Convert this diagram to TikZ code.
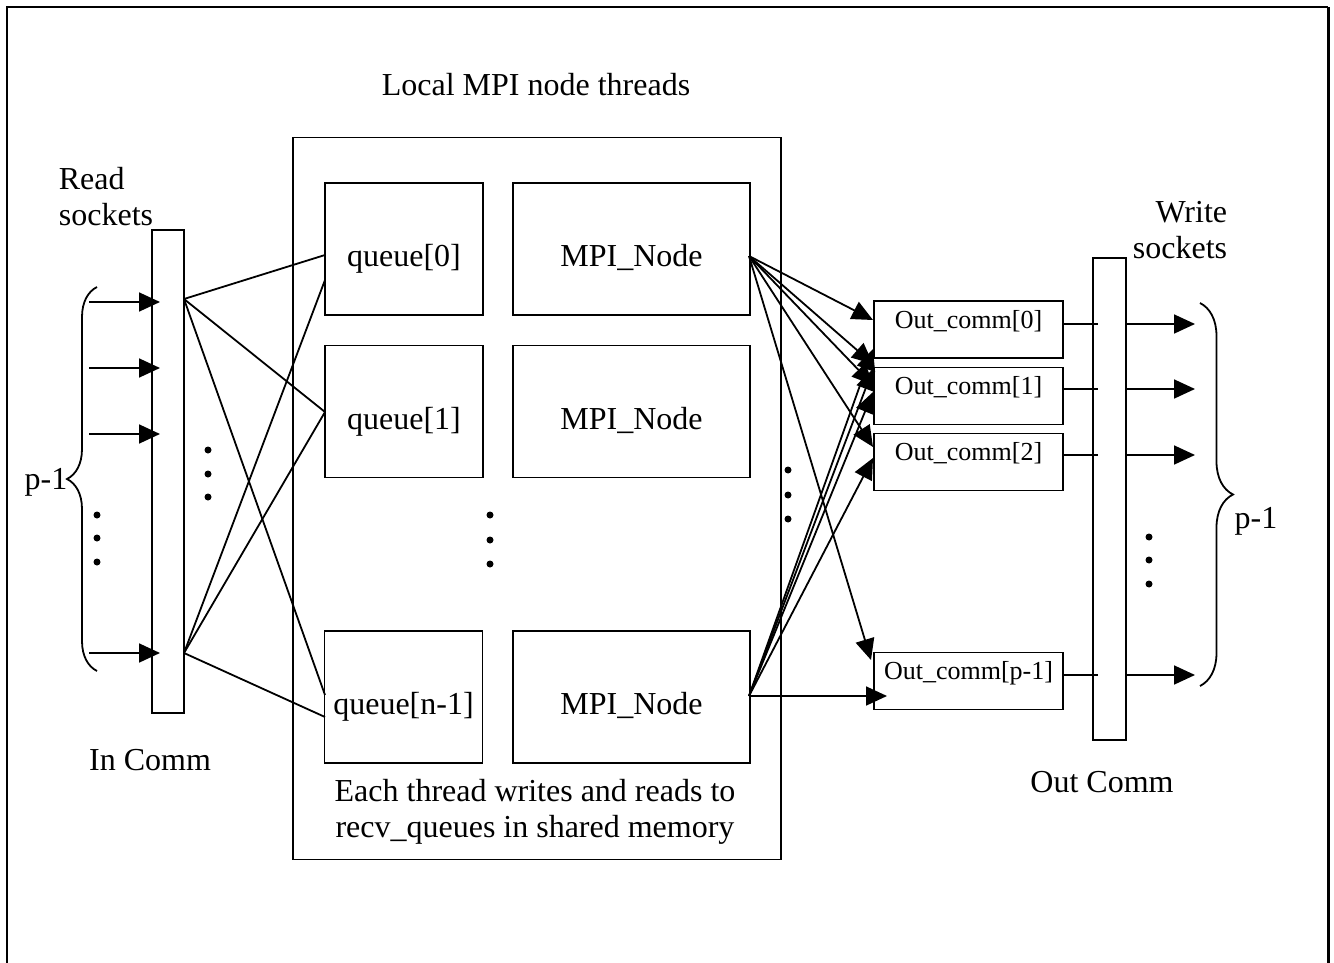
\documentclass[tikz,border=0pt]{standalone}
\usepackage{fontspec}
\setmainfont{Liberation Serif}
\usetikzlibrary{arrows.meta,decorations.pathreplacing}
\begin{document}
\begin{tikzpicture}[x=1pt,y=-1pt,line width=1.8pt,
  every node/.style={font=\fontsize{32}{36}\selectfont, inner sep=0pt},
  rbox/.style={draw, rectangle, inner sep=0pt},
  qbox/.style={rbox, minimum width=158, minimum height=132, text height=42pt, text depth=7pt},
  mbox/.style={rbox, minimum width=237, minimum height=132, text height=42pt, text depth=7pt},
  ocbox/.style={rbox, minimum width=189, minimum height=57, font=\fontsize{26}{30}\selectfont, text height=19pt, text depth=22pt},
  arr/.style={-{Triangle[length=21pt,width=19pt]}},
  bracel/.style={decorate, decoration={brace, amplitude=30pt}},
  bracer/.style={decorate, decoration={brace, amplitude=33pt}},
  dotmark/.style={fill=black}
]
\useasboundingbox (0,0) rectangle (1334,963);
% outer frame
\draw[line width=2pt] (7,963) -- (7,7) -- (1328,7);
\draw[line width=3pt] (1328,7) -- (1328,963);

% title
\node (title) at (536,85) {Local MPI node threads};

% big box
\node[rbox, minimum width=488, minimum height=722] (big) at (537,498.5) {};
\node[align=center] (caption) at (535,812) {Each thread writes and reads to\\recv\_queues in shared memory};

% queues and MPI nodes
\node[qbox] (q0) at (404,249) {queue[0]};
\node[qbox] (q1) at (404,411.5) {queue[1]};
\node[qbox] (qn) at (403.5,697) {queue[n-1]};
\node[mbox] (m0) at (631.5,249) {MPI\_Node};
\node[mbox] (m1) at (631.5,411.5) {MPI\_Node};
\node[mbox] (mn) at (631.5,697) {MPI\_Node};

% in comm bar
\node[rbox, minimum width=32, minimum height=483] (inb) at (168,471.5) {};
\node[anchor=west, align=left] (readlbl) at (58,197) {Read\\sockets};
\node (incomm) at (150,760) {In Comm};

% out comm bar
\node[rbox, minimum width=33, minimum height=482] (outb) at (1109.5,499) {};
\node[anchor=east, align=right] (writelbl) at (1228,230) {Write\\sockets};
\node (outcomm) at (1102,782) {Out Comm};

% out_comm boxes
\node[ocbox] (oc0) at (968.5,329.5) {Out\_comm[0]};
\node[ocbox] (oc1) at (968.5,396) {Out\_comm[1]};
\node[ocbox] (oc2) at (968.5,462) {Out\_comm[2]};
\node[ocbox] (ocp) at (968.5,681) {Out\_comm[p-1]};

% p-1 labels
\node (pl) at (46,482) {p-1};
\node (pr) at (1256,521) {p-1};

% braces
\draw[bracel] (97,671) -- (97,287);
\draw[bracer] (1200,303) -- (1200,686);

% input arrows
\foreach \y [count=\i] in {302,368,434,653} {
  \coordinate (ia\i) at (89,\y);
  \coordinate (ib\i) at (160,\y);
  \draw[arr] (ia\i) -- (ib\i);
}

% in bar to queues
\coordinate (T) at (184,299);
\coordinate (B) at (184,653);
\coordinate (q0a) at (325,255);
\coordinate (q0b) at (325,280);
\coordinate (q1a) at (325,412);
\coordinate (qna) at (325,695);
\coordinate (qnb) at (325,717);
\draw (T) -- (q0a);
\draw (T) -- (q1a);
\draw (T) -- (qna);
\draw (B) -- (q0b);
\draw (B) -- (q1a);
\draw (B) -- (qnb);

% MPI nodes to out_comm
\coordinate (R0) at (749,256);
\coordinate (R1) at (749,696);
\coordinate (t0a) at (873,320);
\coordinate (t1a) at (873,364);
\coordinate (t1b) at (873,385);
\coordinate (t2a) at (873,447);
\coordinate (tpa) at (871,660);
\coordinate (t0b) at (873,349);
\coordinate (t1c) at (873,369);
\coordinate (t1d) at (873,392);
\coordinate (t2b) at (873,458);
\coordinate (tpb) at (887,696);
\foreach \t in {t0a,t1a,t1b,t2a,tpa} \draw[arr] (R0) -- (\t);
\foreach \t in {t0b,t1c,t1d,t2b,tpb} \draw[arr] (R1) -- (\t);

% out_comm to out bar and write arrows
\foreach \y [count=\i] in {324,389,455,675} {
  \coordinate (oa\i) at (1063,\y);
  \coordinate (ob\i) at (1098,\y);
  \coordinate (oc\i) at (1126,\y);
  \coordinate (od\i) at (1195,\y);
  \draw (oa\i) -- (ob\i);
  \draw[arr] (oc\i) -- (od\i);
}

% ellipsis dots
\foreach \y in {515,538,562} \fill[dotmark] (97,\y) circle (3.5pt);
\foreach \y in {450,474,497} \fill[dotmark] (208,\y) circle (3.5pt);
\foreach \y in {515,540,564} \fill[dotmark] (490,\y) circle (3.5pt);
\foreach \y in {470,495,519} \fill[dotmark] (788,\y) circle (3.5pt);
\foreach \y in {537,560,584} \fill[dotmark] (1149,\y) circle (3.5pt);
\end{tikzpicture}
\end{document}
